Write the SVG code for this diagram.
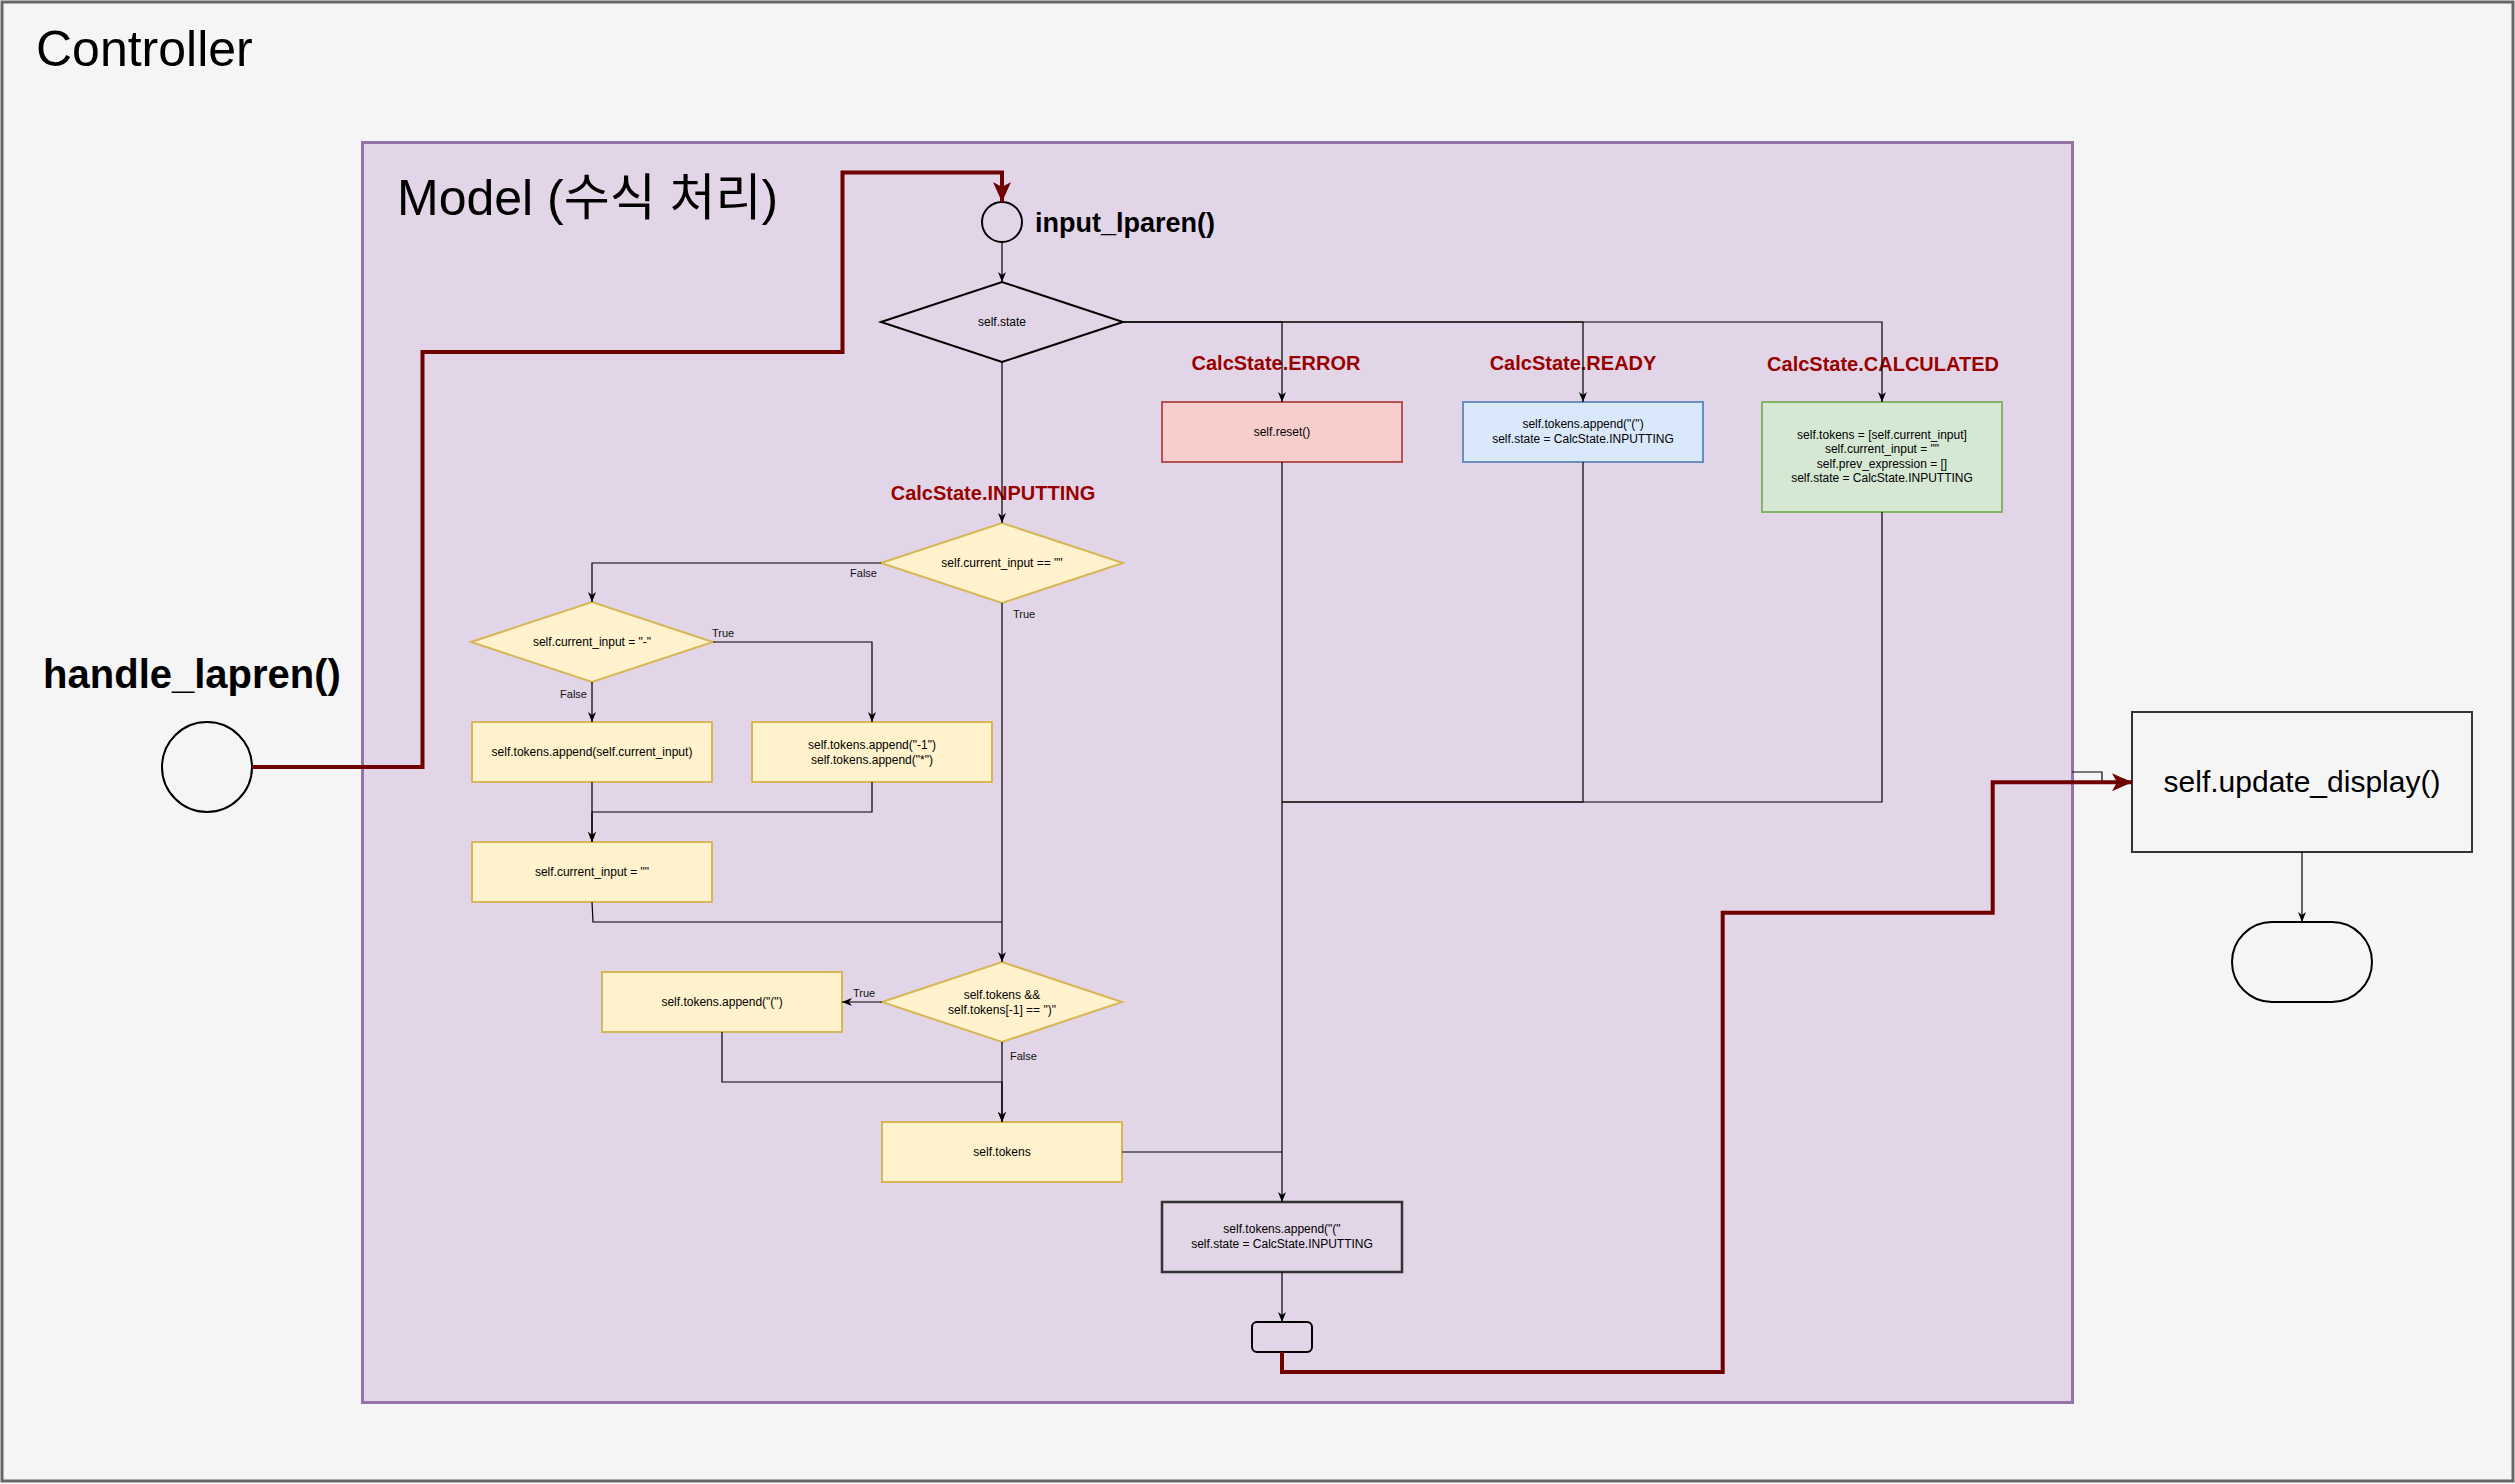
<svg xmlns="http://www.w3.org/2000/svg" width="2515" height="1484" viewBox="0 0 2515 1484">
<style>
.t{font-family:"Liberation Sans",Arial,"Noto Sans CJK KR",sans-serif;fill:#000}
.s{font-size:12px;text-anchor:middle}
.lb{font-size:11px;fill:#111}
.st{font-size:20px;font-weight:bold;fill:#990000;text-anchor:middle}
.yel{fill:#fff2cc;stroke:#d6b656;stroke-width:2}
.ln{fill:none;stroke:#000;stroke-width:1.2}
.red{fill:none;stroke:#6f0000;stroke-width:4}
</style>
<defs>
<marker id="arr" viewBox="0 0 10 10" markerWidth="10" markerHeight="10" refX="10" refY="5" orient="auto" markerUnits="userSpaceOnUse"><path d="M0,1 L10,5 L0,9 L3,5 Z" fill="#000"/></marker>
<marker id="rarr" viewBox="0 0 20 20" markerWidth="20" markerHeight="20" refX="20" refY="10" orient="auto" markerUnits="userSpaceOnUse"><path d="M0,1 L20,10 L0,19 L5,10 Z" fill="#6f0000"/></marker>
</defs>

<g id="controller">
<rect x="2" y="2" width="2511" height="1479" fill="#f5f5f5" stroke="#666" stroke-width="3"/>
<text class="t" x="36" y="66" font-size="50">Controller</text>
</g>

<g id="model">
<rect x="362.5" y="142.5" width="1710" height="1260" fill="#e1d5e7" stroke="#9673a6" stroke-width="3"/>
<text class="t" x="397" y="215" font-size="50">Model (수식 처리)</text>
</g>

<g id="handle_lapren">
<circle cx="207" cy="767" r="45" fill="#f5f5f5" stroke="#000" stroke-width="2"/>
<text class="t" x="192" y="688" font-size="40" font-weight="bold" text-anchor="middle">handle_lapren()</text>
</g>

<g id="input_lparen">
<circle cx="1002" cy="222" r="20" fill="none" stroke="#000" stroke-width="2"/>
<text class="t" x="1035" y="232" font-size="27" font-weight="bold">input_lparen()</text>
</g>

<g id="state_decision">
<polygon points="881,322 1002,282 1123,322 1002,362" fill="none" stroke="#000" stroke-width="2"/>
<text class="t s" x="1002" y="326">self.state</text>
</g>

<g id="state_labels">
<text class="t st" x="1276" y="370">CalcState.ERROR</text>
<text class="t st" x="1573" y="370">CalcState.READY</text>
<text class="t st" x="1883" y="371">CalcState.CALCULATED</text>
<text class="t st" x="993" y="500">CalcState.INPUTTING</text>
</g>

<g id="error_box">
<rect x="1162" y="402" width="240" height="60" fill="#f8cecc" stroke="#b85450" stroke-width="2"/>
<text class="t s" x="1282" y="436">self.reset()</text>
</g>

<g id="ready_box">
<rect x="1463" y="402" width="240" height="60" fill="#dae8fc" stroke="#6c8ebf" stroke-width="2"/>
<text class="t s" x="1583" y="428">self.tokens.append("(")</text>
<text class="t s" x="1583" y="443">self.state = CalcState.INPUTTING</text>
</g>

<g id="calculated_box">
<rect x="1762" y="402" width="240" height="110" fill="#d5e8d4" stroke="#82b366" stroke-width="2"/>
<text class="t s" x="1882" y="439">self.tokens = [self.current_input]</text>
<text class="t s" x="1882" y="453">self.current_input = ""</text>
<text class="t s" x="1882" y="468">self.prev_expression = []</text>
<text class="t s" x="1882" y="482">self.state = CalcState.INPUTTING</text>
</g>

<g id="d_current_empty">
<polygon class="yel" points="881,563 1002,523 1123,563 1002,603"/>
<text class="t s" x="1002" y="567">self.current_input == ""</text>
</g>

<g id="d_current_minus">
<polygon class="yel" points="471,642 592,602 713,642 592,682"/>
<text class="t s" x="592" y="646">self.current_input = "-"</text>
</g>

<g id="box_append_current">
<rect class="yel" x="472" y="722" width="240" height="60"/>
<text class="t s" x="592" y="756">self.tokens.append(self.current_input)</text>
</g>

<g id="box_append_minus">
<rect class="yel" x="752" y="722" width="240" height="60"/>
<text class="t s" x="872" y="749">self.tokens.append("-1")</text>
<text class="t s" x="872" y="764">self.tokens.append("*")</text>
</g>

<g id="box_clear_current">
<rect class="yel" x="472" y="842" width="240" height="60"/>
<text class="t s" x="592" y="876">self.current_input = ""</text>
</g>

<g id="d_tokens_paren">
<polygon class="yel" points="882,1002 1002,962 1122,1002 1002,1042"/>
<text class="t s" x="1002" y="999">self.tokens &amp;&amp;</text>
<text class="t s" x="1002" y="1014">self.tokens[-1] == ")"</text>
</g>

<g id="box_append_mul">
<rect class="yel" x="602" y="972" width="240" height="60"/>
<text class="t s" x="722" y="1006">self.tokens.append("(")</text>
</g>

<g id="box_tokens">
<rect class="yel" x="882" y="1122" width="240" height="60"/>
<text class="t s" x="1002" y="1156">self.tokens</text>
</g>

<g id="box_final">
<rect x="1162" y="1202" width="240" height="70" fill="none" stroke="#333" stroke-width="2.5"/>
<text class="t s" x="1282" y="1233">self.tokens.append("("</text>
<text class="t s" x="1282" y="1248">self.state = CalcState.INPUTTING</text>
</g>

<g id="model_end">
<rect x="1252" y="1322" width="60" height="30" rx="5" fill="none" stroke="#000" stroke-width="2"/>
</g>

<g id="update_display">
<rect x="2132" y="712" width="340" height="140" fill="#f5f5f5" stroke="#333" stroke-width="2"/>
<text class="t" x="2302" y="792" font-size="30" text-anchor="middle">self.update_display()</text>
</g>

<g id="terminal">
<rect x="2232" y="922" width="140" height="80" rx="40" fill="#f5f5f5" stroke="#000" stroke-width="2"/>
</g>

<g id="connectors">
<path class="ln" d="M1002,242 V282" marker-end="url(#arr)"/>
<path class="ln" d="M1123,322 H1282 V402" marker-end="url(#arr)"/>
<path class="ln" d="M1123,322 H1583 V402" marker-end="url(#arr)"/>
<path class="ln" d="M1123,322 H1882 V402" marker-end="url(#arr)"/>
<path class="ln" d="M1002,362 V523" marker-end="url(#arr)"/>
<path class="ln" d="M881,563 H592 V602" marker-end="url(#arr)"/>
<path class="ln" d="M713,642 H872 V722" marker-end="url(#arr)"/>
<path class="ln" d="M592,682 V722" marker-end="url(#arr)"/>
<path class="ln" d="M592,782 V842" marker-end="url(#arr)"/>
<path class="ln" d="M872,782 V812 H592 V842" marker-end="url(#arr)"/>
<path class="ln" d="M1002,603 V962" marker-end="url(#arr)"/>
<path class="ln" d="M592,902 L593,922 H1002"/>
<path class="ln" d="M882,1002 H842" marker-end="url(#arr)"/>
<path class="ln" d="M1002,1042 V1122" marker-end="url(#arr)"/>
<path class="ln" d="M722,1032 V1082 H1002 V1122" marker-end="url(#arr)"/>
<path class="ln" d="M1122,1152 H1282"/>
<path class="ln" d="M1282,462 V1202" marker-end="url(#arr)"/>
<path class="ln" d="M1583,462 V802 H1282"/>
<path class="ln" d="M1882,512 V802 H1282"/>
<path class="ln" d="M1282,1272 V1322" marker-end="url(#arr)"/>
<path class="ln" d="M2072,772 H2102 V782 H2132" marker-end="url(#arr)"/>
<path class="ln" d="M2302,852 V922" marker-end="url(#arr)"/>
<path class="red" d="M252,767 H422.5 V352 H842.5 V172.5 H1002 V202" marker-end="url(#rarr)"/>
<path class="red" d="M1282,1352 V1372 H1722.7 V912.7 H1992.7 V782.3 H2132" marker-end="url(#rarr)"/>
<text class="t lb" x="877" y="577" text-anchor="end">False</text>
<text class="t lb" x="1013" y="618">True</text>
<text class="t lb" x="712" y="637">True</text>
<text class="t lb" x="587" y="698" text-anchor="end">False</text>
<text class="t lb" x="853" y="997">True</text>
<text class="t lb" x="1010" y="1060">False</text>
</g>
</svg>
